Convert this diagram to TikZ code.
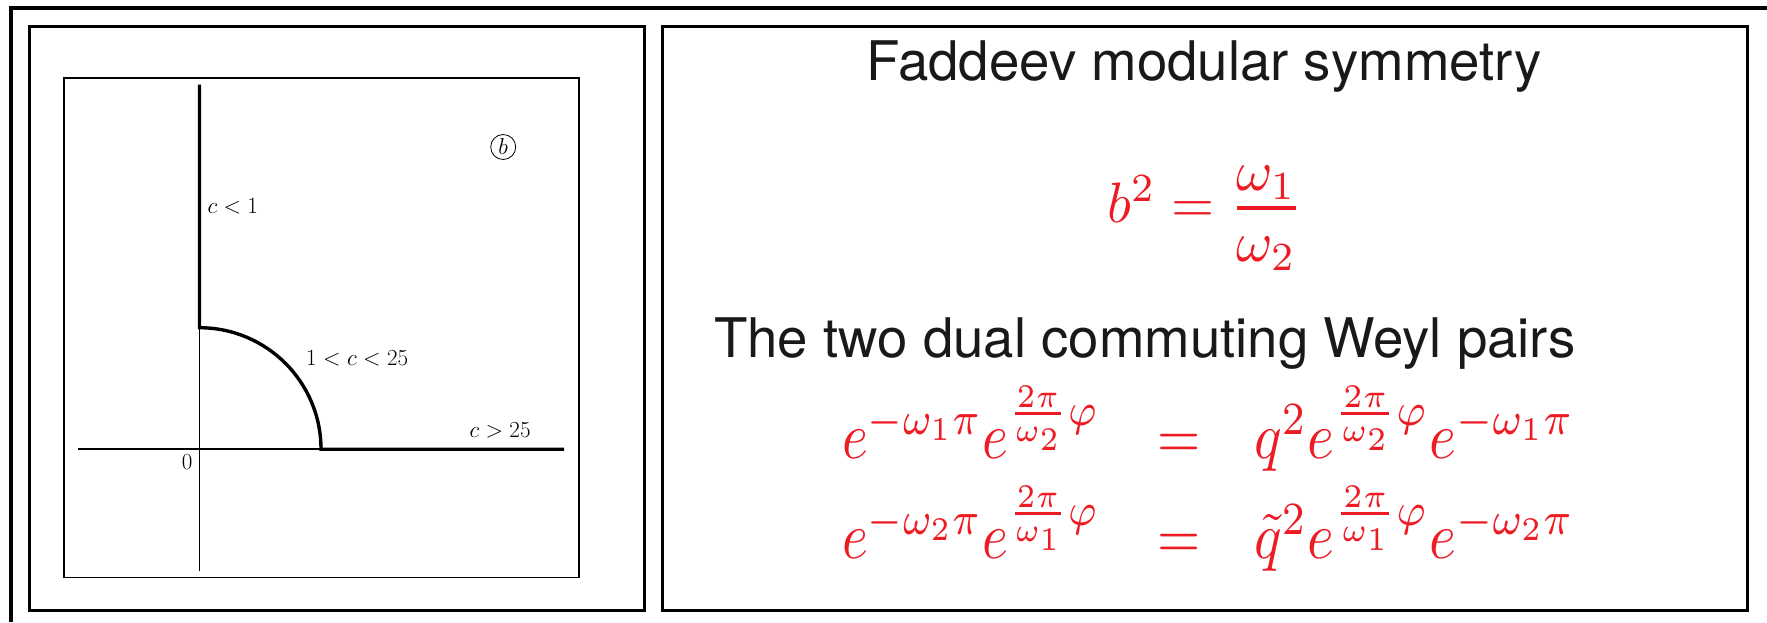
\RequirePackage{fix-cm}
\documentclass[tikz,border=0pt]{standalone}
\usepackage{amsmath}
\usepackage{fontspec}
\setsansfont{TeX Gyre Heros}
\definecolor{slidered}{RGB}{237,28,36}
\newcommand{\roweq}[1]{\scalebox{5.55}[6.6]{$#1$}}
\newcommand{\rowrhs}[1]{\scalebox{5.75}[6.6]{$#1$}}
\newcommand{\beq}[1]{\scalebox{5.55}[5.7]{$#1$}}
\tikzset{
  frameline/.style={line width=4pt},
  panel/.style={draw, line width=3pt},
  plotbox/.style={draw, line width=1.8pt},
  axis/.style={line width=1.6pt},
  curve/.style={line width=3.4pt},
  lbl/.style={font=\fontsize{23}{28}\selectfont, inner sep=0pt},
  titletext/.style={font=\sffamily\fontsize{54.6}{64}\selectfont, inner sep=0pt, text=black!90},
  eqn/.style={text=slidered, inner sep=0pt, font=\fontsize{10}{12}\selectfont},
}
\begin{document}
\begin{tikzpicture}[x=1pt,y=-1pt]
\useasboundingbox (0,0) rectangle (1767,622);
% outer frame (partly outside the picture)
\draw[frameline] (10.5,622) -- (10.5,8) -- (1767,8);
% panels
\draw[panel] (29.5,26) rectangle (644.5,610.5);
\draw[panel] (662,26.5) rectangle (1747.5,610.5);
\draw[plotbox] (64,78) rectangle (579,577.5);
% axes
\coordinate (ytop) at (199.5,84.5);
\coordinate (ybot) at (199.5,570.6);
\coordinate (arctop) at (199.5,327.7);
\coordinate (xleft) at (78,449.2);
\coordinate (arcright) at (321,449.2);
\coordinate (xright) at (564,449.2);
\draw[axis] (ybot) -- (arctop);
\draw[axis] (xleft) -- (arcright);
\draw[curve] (ytop) -- (arctop) .. controls (266.6,327.7) and (321,382.1) .. (arcright) -- (xright);
% labels
\node[lbl, anchor=base west] (lc1) at (207.3,213.3) {$c<1$};
\node[lbl, anchor=base west] (lmid) at (306,365) {$1<c<25$};
\node[lbl, anchor=base west] (lc25) at (469.3,437.7) {$c>25$};
\node[lbl, anchor=base west] (l0) at (181.7,469.3) {$0$};
\node[lbl, draw, circle, line width=0.8pt, minimum size=25pt, inner sep=0pt] (lb) at (503.2,147) {$b$};
% right panel
\node[titletext, anchor=base] (t1) at (1204,80.7) {Faddeev modular symmetry};
\node[titletext, anchor=base] (t2) at (1145,357) {The two dual commuting Weyl pairs};
\node[eqn, anchor=base west] (bq) at (1107,222.5)
  {\beq{b^2=\genfrac{}{}{0.7pt}{0}{\raisebox{-1.2pt}[0pt][0pt]{$\omega_1$}}{\omega_2}}};
\node[eqn, anchor=base east] (l1) at (1100,458) {\roweq{e^{-\omega_1\pi}e^{\frac{2\pi}{\omega_2}\varphi}}};
\node[eqn, anchor=base] (eq1) at (1179,458) {\roweq{=}};
\node[eqn, anchor=base west] (r1) at (1254,458) {\rowrhs{q^2e^{\frac{2\pi}{\omega_2}\varphi}e^{-\omega_1\pi}}};
\node[eqn, anchor=base east] (l2) at (1100,558) {\roweq{e^{-\omega_2\pi}e^{\frac{2\pi}{\omega_1}\varphi}}};
\node[eqn, anchor=base] (eq2) at (1179,558) {\roweq{=}};
\node[eqn, anchor=base west] (r2) at (1254,558) {\rowrhs{\tilde{q}^2e^{\frac{2\pi}{\omega_1}\varphi}e^{-\omega_2\pi}}};
\end{tikzpicture}
\end{document}
